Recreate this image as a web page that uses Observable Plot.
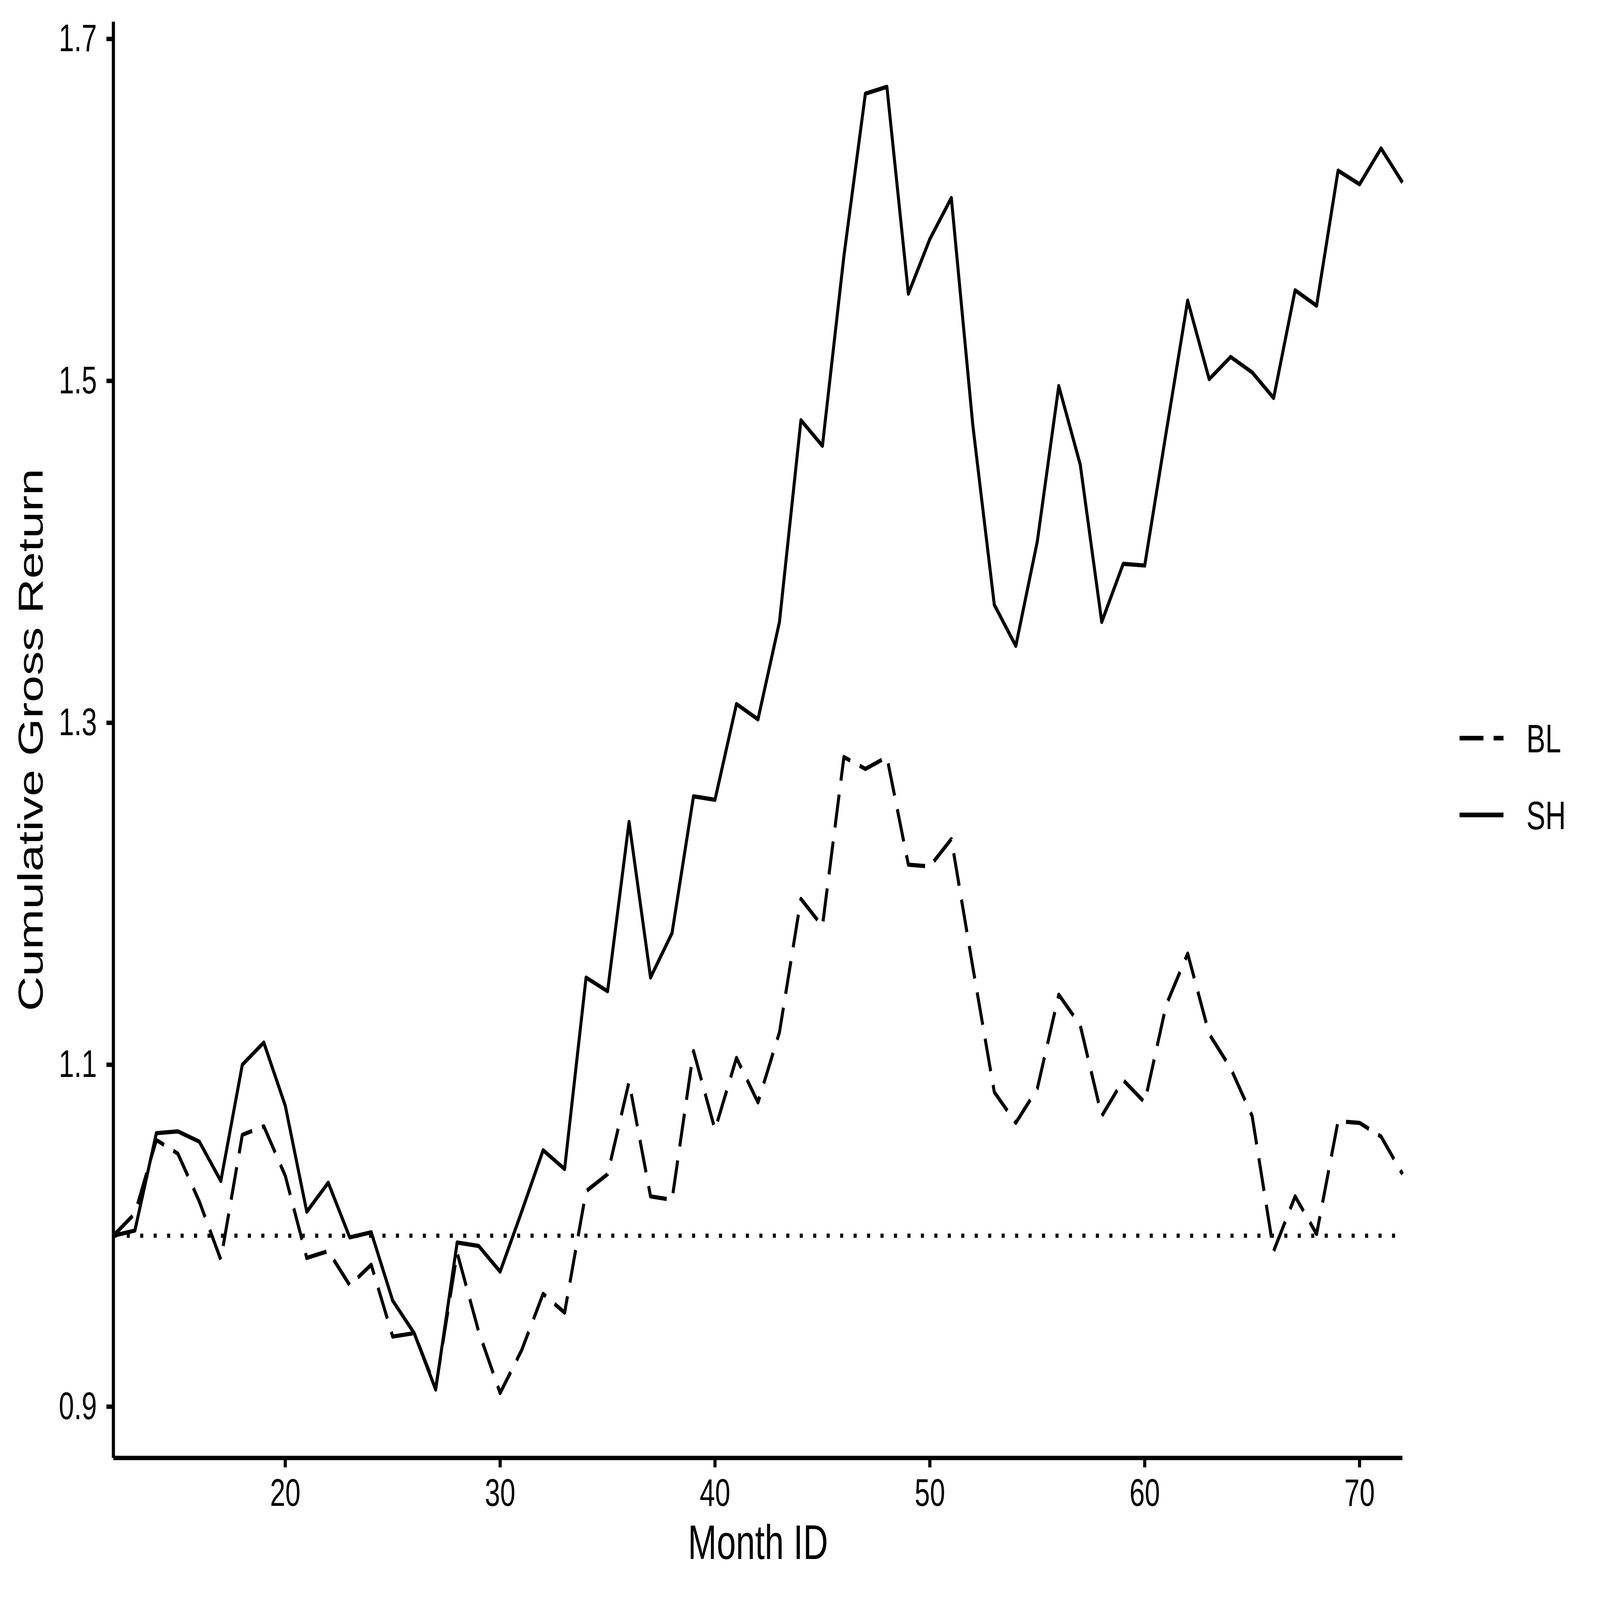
<!DOCTYPE html>
<html>
<head>
<meta charset="utf-8">
<script src="https://cdn.jsdelivr.net/npm/d3@7"></script>
<script src="https://cdn.jsdelivr.net/npm/@observablehq/plot@0.6"></script>
<style>
html, body { margin: 0; padding: 0; background: #ffffff; overflow: hidden; }
#chart { width: 100vw; height: 100vh; }
#chart svg { display: block; width: 100vw; height: 100vh; max-width: none; }
</style>
</head>
<body>
<div id="chart"></div>
<script>
// ---- data ----
const months = [12,13,14,15,16,17,18,19,20,21,22,23,24,25,26,27,28,29,30,31,32,33,34,35,36,37,38,39,40,41,42,43,44,45,46,47,48,49,50,51,52,53,54,55,56,57,58,59,60,61,62,63,64,65,66,67,68,69,70,71,72];
const blValues = [1.000,1.013,1.056,1.048,1.020,0.986,1.059,1.064,1.035,0.987,0.991,0.971,0.983,0.941,0.943,0.911,0.990,0.944,0.908,0.933,0.966,0.955,1.026,1.036,1.090,1.023,1.021,1.108,1.062,1.104,1.078,1.119,1.197,1.181,1.280,1.273,1.280,1.217,1.216,1.232,1.157,1.084,1.066,1.086,1.141,1.123,1.070,1.091,1.078,1.135,1.165,1.118,1.098,1.070,0.991,1.023,1.001,1.067,1.066,1.058,1.036];
const shValues = [1.000,1.003,1.060,1.061,1.055,1.032,1.100,1.113,1.076,1.014,1.031,0.999,1.002,0.962,0.943,0.910,0.996,0.994,0.979,1.014,1.050,1.039,1.151,1.143,1.242,1.151,1.177,1.257,1.255,1.311,1.302,1.359,1.477,1.462,1.573,1.668,1.672,1.551,1.583,1.607,1.474,1.369,1.345,1.406,1.497,1.451,1.359,1.393,1.392,1.470,1.547,1.501,1.514,1.505,1.490,1.553,1.544,1.623,1.615,1.636,1.616];
const seriesNames = ["BL", "SH"];
const xTicks = [20, 30, 40, 50, 60, 70];
const xTickLabels = ["20", "30", "40", "50", "60", "70"];
const yTicks = [0.9, 1.1, 1.3, 1.5, 1.7];
const yTickLabels = ["0.9", "1.1", "1.3", "1.5", "1.7"];
const xDomain = [12, 72];
const yDomain = [0.870, 1.710];
const referenceLevel = [1.0];
const xTitle = "Month ID";
const yTitle = "Cumulative Gross Return";

// ---- table ----
const seriesValues = {BL: blValues, SH: shValues};
const rows = [];
for (const s of seriesNames) {
  months.forEach((m, i) => rows.push({month: m, series: s, value: seriesValues[s][i]}));
}

// ---- styles ----
const dashes = {BL: "94,40", SH: null};
const lineW = 11.8;
const axisW = 12.4;
const tickFont = 108;
const titleFont = 136;
const legendFont = 112;

function legendMark(index, scales, values, dimensions) {
  const {width, height, marginTop, marginRight, marginBottom} = dimensions;
  const right = width - marginRight;
  const mid = (marginTop + height - marginBottom) / 2;
  const g = d3.create("svg:g");
  seriesNames.forEach((s, i) => {
    const cy = mid - 4.5 + i * 216;
    const ln = g.append("line")
      .attr("x1", right + 225).attr("x2", right + 398)
      .attr("y1", cy).attr("y2", cy)
      .attr("stroke", "black").attr("stroke-width", 13)
      .attr("stroke-linecap", "butt");
    if (dashes[s]) ln.attr("stroke-dasharray", dashes[s]);
    g.append("text")
      .attr("x", right + 488).attr("y", cy + 40.5)
      .attr("font-size", legendFont)
      .attr("text-anchor", "start")
      .attr("fill", "black")
      .text(s);
  });
  return g.node();
}

const marks = [
  Plot.ruleY(referenceLevel, {stroke: "black", strokeWidth: 12, strokeDasharray: "12,41"}),
  ...seriesNames.map(s => Plot.line(rows.filter(d => d.series === s), {
    x: "month", y: "value",
    stroke: "black", strokeWidth: lineW,
    strokeDasharray: dashes[s] || undefined,
    strokeLinecap: "butt", strokeLinejoin: "round"
  })),
  Plot.ruleX([xDomain[0]], {stroke: "black", strokeWidth: axisW}),
  Plot.ruleY([yDomain[0]], {stroke: "black", strokeWidth: axisW}),
  Plot.axisX({ticks: xTicks, tickFormat: d => xTickLabels[xTicks.indexOf(d)], tickSize: 27, tickPadding: 31,
    fontSize: tickFont, strokeWidth: axisW, label: null}),
  Plot.axisY({ticks: yTicks, tickFormat: d => yTickLabels[yTicks.indexOf(d)], tickSize: 27, tickPadding: 38,
    fontSize: tickFont, strokeWidth: axisW, label: null}),
  Plot.text([xTitle], {text: d => d, frameAnchor: "bottom", dy: 284, lineAnchor: "bottom", textAnchor: "middle",
    fontSize: titleFont, fill: "black"}),
  Plot.text([yTitle], {text: d => d, frameAnchor: "left", rotate: -90, dx: -279, lineAnchor: "bottom", textAnchor: "middle",
    fontSize: titleFont, fill: "black"}),
  legendMark
];

const chart = Plot.plot({
  width: 6300,
  height: 4500,
  marginLeft: 446,
  marginRight: 778,
  marginTop: 61,
  marginBottom: 400,
  style: {fontFamily: "'Liberation Sans', Arial, Helvetica, sans-serif", background: "white", color: "black"},
  x: {domain: xDomain, axis: null},
  y: {domain: yDomain, axis: null},
  marks
});
chart.setAttribute("viewBox", "0 0 6300 4500");
chart.setAttribute("preserveAspectRatio", "none");
document.getElementById("chart").appendChild(chart);
</script>
</body>
</html>
